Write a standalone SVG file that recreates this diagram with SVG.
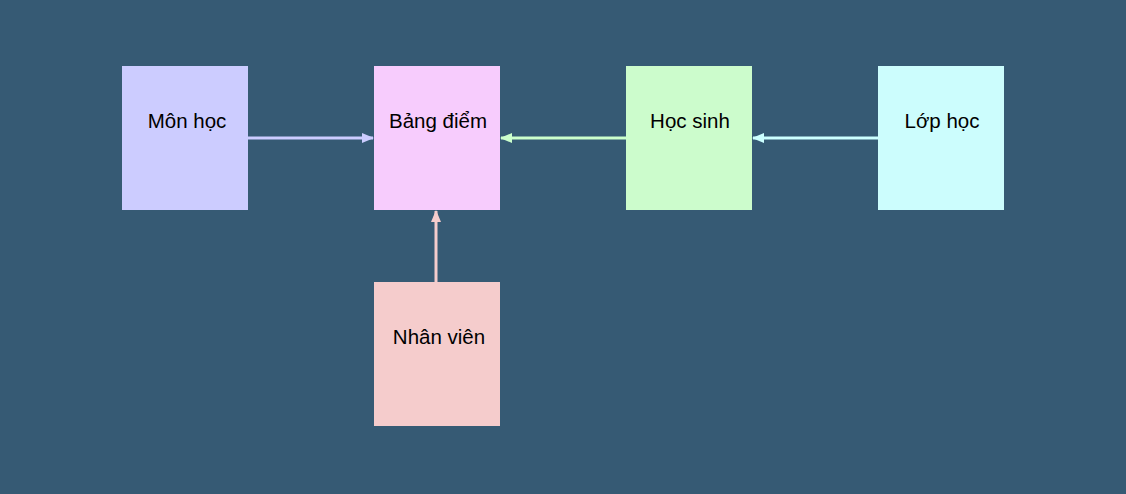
<svg xmlns="http://www.w3.org/2000/svg" width="1126" height="494" viewBox="0 0 1126 494">
<style>
text{font-family:"Liberation Sans","DejaVu Sans",sans-serif;font-size:20.5px;fill:#000;text-anchor:middle}
.c{fill:none;stroke-width:3}
</style>
<defs>
<marker id="aB" markerWidth="12" markerHeight="12" refX="11" refY="6" orient="auto" markerUnits="userSpaceOnUse"><path d="M0,1 L12,6 L0,11 Z" fill="#ccccff"/></marker>
<marker id="aG" markerWidth="12" markerHeight="12" refX="11" refY="6" orient="auto" markerUnits="userSpaceOnUse"><path d="M0,1 L12,6 L0,11 Z" fill="#ccffcc"/></marker>
<marker id="aC" markerWidth="12" markerHeight="12" refX="11" refY="6" orient="auto" markerUnits="userSpaceOnUse"><path d="M0,1 L12,6 L0,11 Z" fill="#ccffff"/></marker>
<marker id="aR" markerWidth="12" markerHeight="12" refX="11" refY="6" orient="auto" markerUnits="userSpaceOnUse"><path d="M0,1 L12,6 L0,11 Z" fill="#f5cccc"/></marker>
</defs>
<rect width="1126" height="494" fill="#365a74"/>
<g id="connectors">
<line class="c" x1="248" y1="138" x2="373" y2="138" stroke="#ccccff" marker-end="url(#aB)"/>
<line class="c" x1="626" y1="138" x2="501" y2="138" stroke="#ccffcc" marker-end="url(#aG)"/>
<line class="c" x1="878" y1="138" x2="753" y2="138" stroke="#ccffff" marker-end="url(#aC)"/>
<line class="c" x1="436" y1="282" x2="436" y2="211" stroke="#f5cccc" marker-end="url(#aR)"/>
</g>
<g id="mon-hoc"><rect x="122" y="66" width="126" height="144" fill="#ccccff"/><text x="187" y="128">Môn học</text></g>
<g id="bang-diem"><rect x="374" y="66" width="126" height="144" fill="#f7ccfd"/><text x="438" y="128">Bảng điểm</text></g>
<g id="hoc-sinh"><rect x="626" y="66" width="126" height="144" fill="#ccfccc"/><text x="690" y="128">Học sinh</text></g>
<g id="lop-hoc"><rect x="878" y="66" width="126" height="144" fill="#ccfdfd"/><text x="942" y="128">Lớp học</text></g>
<g id="nhan-vien"><rect x="374" y="282" width="126" height="144" fill="#f5cccc"/><text x="439" y="344">Nhân viên</text></g>
</svg>
